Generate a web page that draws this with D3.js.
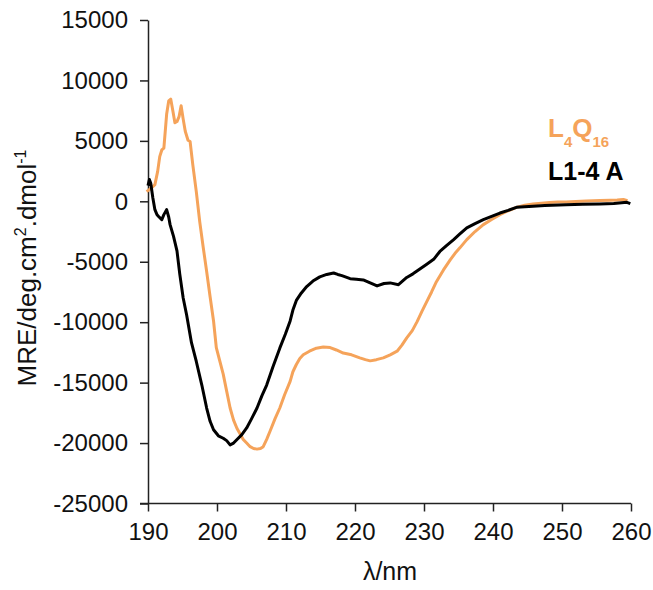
<!DOCTYPE html>
<html>
<head>
<meta charset="utf-8">
<script src="https://cdn.jsdelivr.net/npm/d3@7/dist/d3.min.js"></script>
<style>
  html, body { margin: 0; padding: 0; background: #fff; }
  svg { display: block; font-family: "Liberation Sans", Arial, sans-serif; }
</style>
</head>
<body>
<svg id="chart" width="653" height="590"></svg>
<script>
// ---- Data ----
const xTicks = [190, 200, 210, 220, 230, 240, 250, 260];
const yTicks = [-25000, -20000, -15000, -10000, -5000, 0, 5000, 10000, 15000];

const lambdaL4Q16 = [189.8, 190.5, 191.0, 191.4, 191.7, 192.0, 192.3, 192.7, 193.0, 193.3, 193.6, 193.9, 194.2, 194.5, 194.8, 195.1, 195.4, 195.8, 196.1, 196.5, 197.0, 197.5, 198.0, 198.5, 199.0, 199.5, 199.9, 200.4, 200.9, 201.4, 201.9, 202.4, 202.9, 203.4, 203.8, 204.3, 204.8, 205.3, 205.8, 206.3, 206.7, 207.2, 207.7, 208.4, 209.1, 209.8, 210.6, 211.0, 211.5, 212.0, 212.5, 213.4, 214.4, 215.4, 216.4, 217.3, 218.3, 219.5, 220.7, 221.5, 222.2, 223.1, 224.1, 225.1, 226.1, 226.8, 227.5, 228.3, 229.0, 229.7, 230.4, 231.1, 231.8, 232.8, 233.8, 234.5, 235.2, 236.2, 237.4, 238.6, 239.8, 241.0, 242.2, 243.4, 244.6, 245.8, 247.0, 248.2, 249.4, 250.6, 252.0, 253.5, 255.5, 257.0, 258.0, 258.9, 259.5];
const mreL4Q16 = [800, 1100, 1380, 2480, 3700, 4250, 4400, 7200, 8300, 8450, 7500, 6500, 6600, 7000, 7900, 6800, 5800, 5050, 4950, 3000, 800, -1700, -3800, -5800, -7900, -9900, -12100, -13200, -14300, -15700, -17100, -18100, -18800, -19300, -19700, -20000, -20300, -20450, -20500, -20450, -20300, -19700, -19000, -18000, -17100, -16000, -14900, -14100, -13500, -13000, -12700, -12400, -12150, -12050, -12100, -12300, -12550, -12700, -12950, -13100, -13200, -13100, -12950, -12700, -12400, -11900, -11300, -10700, -9950, -9100, -8300, -7500, -6650, -5700, -4850, -4300, -3850, -3170, -2500, -1930, -1500, -1100, -780, -500, -330, -220, -150, -100, -60, -60, -20, 20, 60, 80, 100, 150, 60];

const lambdaL14A = [190.0, 190.2, 190.4, 190.7, 191.0, 191.3, 191.5, 192.0, 192.3, 192.7, 193.0, 193.2, 193.7, 194.2, 194.6, 195.1, 195.6, 196.3, 197.0, 197.8, 198.5, 199.0, 199.5, 200.2, 200.9, 201.4, 201.9, 202.4, 202.9, 203.6, 204.3, 205.0, 205.8, 206.5, 207.2, 208.1, 209.1, 209.9, 210.6, 211.0, 211.5, 212.2, 213.0, 213.9, 214.9, 215.9, 216.9, 217.5, 218.1, 219.3, 220.2, 221.2, 222.2, 223.2, 224.2, 225.1, 226.3, 227.0, 227.5, 228.4, 229.4, 230.4, 231.4, 232.3, 233.3, 234.3, 235.2, 236.2, 237.4, 238.6, 239.8, 241.0, 242.2, 243.4, 245.8, 247.5, 250.6, 253.0, 255.5, 257.5, 259.4, 259.9];
const mreL14A = [1300, 1800, 1500, 300, -690, -1100, -1240, -1520, -1100, -690, -1300, -1930, -2900, -4100, -6000, -8000, -9400, -11700, -13250, -15200, -17100, -18200, -18900, -19400, -19600, -19800, -20150, -20000, -19700, -19300, -18750, -18000, -17100, -16100, -15200, -13700, -12150, -11000, -9900, -9000, -8200, -7600, -7050, -6600, -6250, -6050, -5930, -6050, -6150, -6400, -6450, -6500, -6750, -7000, -6800, -6750, -6900, -6550, -6300, -6000, -5600, -5200, -4800, -4150, -3650, -3170, -2700, -2200, -1850, -1520, -1250, -970, -750, -500, -410, -350, -280, -250, -220, -180, -80, -190];

const seriesNames = ["L4Q16", "L1-4 A"];
const seriesColors = ["#F5A35A", "#000000"];

// ---- Scales ----
const svg = d3.select("#chart");
const x = d3.scaleLinear().domain([190, 260]).range([148, 631]);
const y = d3.scaleLinear().domain([-25000, 15000]).range([503.5, 20]);

// ---- Axes ----
const axisColor = "#222";
const xAxis = svg.append("g")
  .attr("transform", `translate(0,${y(-25000)})`)
  .call(d3.axisBottom(x).tickValues(xTicks).tickSize(8).tickSizeOuter(0).tickPadding(11).tickFormat(d3.format("d")));
const yAxis = svg.append("g")
  .attr("transform", `translate(${x(190)},0)`)
  .call(d3.axisLeft(y).tickValues(yTicks).tickSize(8).tickSizeOuter(0).tickPadding(12).tickFormat(d => d3.format("d")(d).replace("−", "-")));

[xAxis, yAxis].forEach(g => {
  g.select(".domain").attr("stroke", axisColor).attr("stroke-width", 1.5);
  g.selectAll(".tick line").attr("stroke", axisColor).attr("stroke-width", 1.5);
  g.selectAll(".tick text").attr("fill", "#111").style("font-size", "24px")
    .style("font-family", "'Liberation Sans', Arial, sans-serif");
});
// extend x axis line to the left to meet the y tick at -25000
xAxis.select(".domain").attr("d", `M${x(190) - 8},0H${x(260)}`);

// ---- Lines ----
const line = d3.line().x(d => x(d[0])).y(d => y(d[1])).curve(d3.curveLinear);
const dataL4Q16 = lambdaL4Q16.map((l, i) => [l, mreL4Q16[i]]);
const dataL14A = lambdaL14A.map((l, i) => [l, mreL14A[i]]);

svg.append("path").datum(dataL4Q16)
  .attr("d", line).attr("fill", "none")
  .attr("stroke", seriesColors[0]).attr("stroke-width", 3).attr("stroke-linejoin", "round");
svg.append("path").datum(dataL14A)
  .attr("d", line).attr("fill", "none")
  .attr("stroke", seriesColors[1]).attr("stroke-width", 3).attr("stroke-linejoin", "round");

// ---- Axis titles ----
svg.append("text")
  .attr("x", 390).attr("y", 580)
  .attr("text-anchor", "middle")
  .style("font-size", "25px").attr("fill", "#111")
  .text("λ/nm");

const yt = svg.append("text")
  .attr("transform", "translate(36,268) rotate(-90)")
  .attr("text-anchor", "middle")
  .style("font-size", "26px").attr("fill", "#111");
yt.append("tspan").text("MRE/deg.cm");
yt.append("tspan").attr("dy", -10).style("font-size", "16px").text("2");
yt.append("tspan").attr("dy", 10).text(".dmol");
yt.append("tspan").attr("dy", -10).style("font-size", "16px").text("-1");

// ---- Legend ----
const lg1 = svg.append("text")
  .attr("x", 548).attr("y", 137)
  .style("font-size", "26px").style("font-weight", "bold")
  .attr("fill", seriesColors[0]);
lg1.append("tspan").text("L");
lg1.append("tspan").attr("dy", 10).style("font-size", "15px").text("4");
lg1.append("tspan").attr("dy", -10).text("Q");
lg1.append("tspan").attr("dy", 10).style("font-size", "15px").text("16");

svg.append("text")
  .attr("x", 548).attr("y", 180)
  .style("font-size", "25px").style("font-weight", "bold")
  .attr("fill", seriesColors[1])
  .text(seriesNames[1]);
</script>
</body>
</html>
